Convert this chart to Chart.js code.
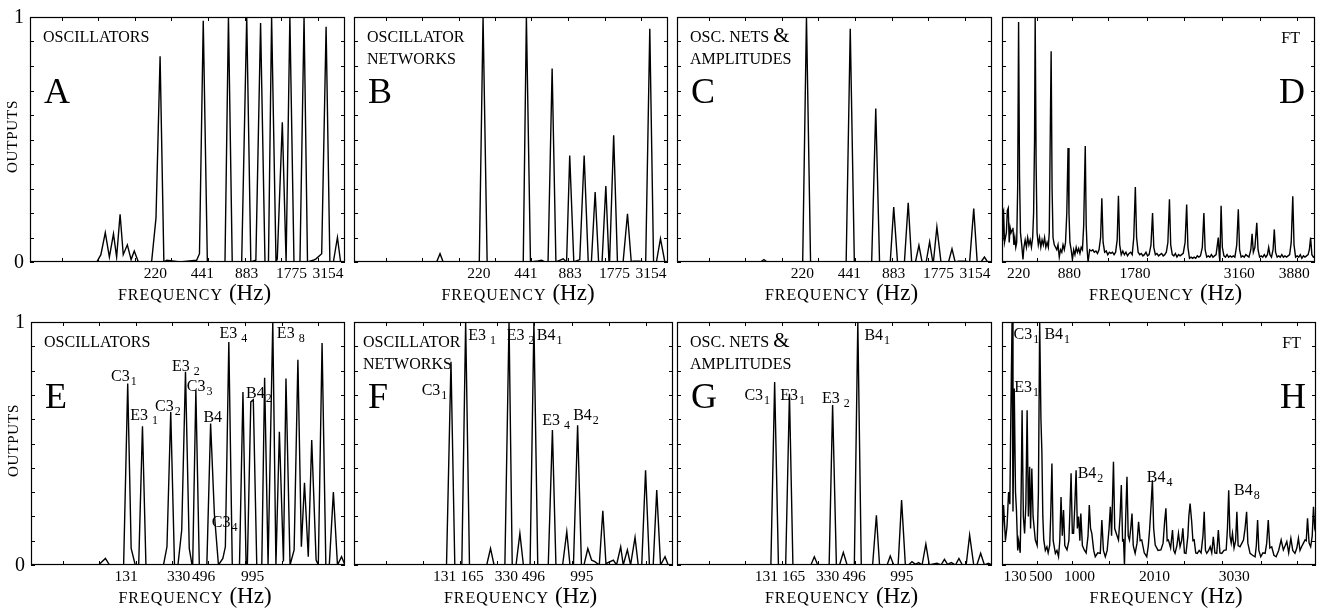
<!DOCTYPE html>
<html>
<head>
<meta charset="utf-8">
<script src="https://cdn.jsdelivr.net/npm/chart.js@4.4.1/dist/chart.umd.min.js"></script>
<style>
    html, body { margin: 0; padding: 0; background: #fff; }
    #wrap { position: relative; width: 1318px; height: 608px; background: #fff; }
    #wrap canvas { position: absolute; left: 0; top: 0; }
</style>
</head>
<body>
<div id="wrap"></div>
<script>
    'use strict';

    // x is the position along each panel's axis (0..100), y is the output (0..1)
    var panelA = [[0,0],[21.2,0],[22.5,0.03],[23.9,0.12],[25.2,0.02],[26.5,0.115],[27.5,0.02],[28.6,0.195],[29.6,0.03],[30.9,0.07],[32.1,0.01],[33.1,0.045],[34.4,0],
        [38.6,0],[40.0,0.18],[41.3,0.84],[42.5,0],[43.4,0.007],[47.6,0],[52.9,0.007],[53.8,0.034],[55.0,0.985],[56.3,0],
        [61.9,0],[63.0,1.0],[64.2,0],[67.2,0],[68.8,1.0],[70.1,0],[71.7,0.007],[73.2,0.975],[74.6,0],[75.7,0],[76.7,1.0],[78.1,0],
        [78.5,0.013],[80.1,0.57],[81.3,0],[81.5,0],[82.5,1.0],[83.8,0],[85.7,0],[87.0,1.0],[88.1,0],
        [89.9,0.007],[90.8,0.013],[92.6,0.034],[94.0,0.96],[95.2,0],[96.3,0],[97.6,0.1],[98.6,0],[100,0]];

    var panelB = [[0,0],[26.3,0],[27.4,0.034],[28.4,0],[39.9,0],[41.1,1.0],[42.4,0],[53.9,0],[54.9,1.0],[56.2,0],
        [58.6,0.004],[59.7,0.007],[60.8,0],[61.8,0],[63.1,0.79],[64.3,0],[65.5,0.007],[66.6,0.013],[67.7,0],[68.7,0.435],[70.0,0],
        [71.9,0.01],[73.3,0.435],[74.6,0],[75.6,0],[76.8,0.286],[77.9,0],[79.0,0],[80.2,0.31],[81.2,0],[81.4,0],[82.7,0.517],[83.9,0],
        [85.7,0],[87.1,0.197],[88.3,0],[88.9,0.003],[91.0,0.003],[92.9,0],[94.2,0.952],[95.4,0],[96.3,0],[97.6,0.095],[99.0,0],[100,0]];

    var panelC = [[0,0],[26.5,0],[27.6,0.01],[28.6,0],[39.9,0],[41.1,1.0],[42.4,0],[53.7,0],[55.0,0.952],[56.3,0],
        [61.8,0],[63.1,0.626],[64.3,0],[67.7,0],[68.8,0.224],[70.0,0],[72.2,0],[73.4,0.242],[74.5,0],[75.7,0],[76.8,0.068],[77.8,0],
        [79.1,0],[80.2,0.082],[81.2,0],[81.4,0],[82.5,0.143],[83.8,0],[86.2,0],[87.3,0.054],[88.3,0],[89.4,0.003],[91.5,0.003],[92.9,0],
        [94.2,0.218],[95.3,0],[96.5,0],[97.6,0.02],[98.6,0],[100,0]];

    var panelD = [[0,0.09],[0.25,0.2],[0.5,0.21],[0.8,0.08],[1.1,0.1],[1.4,0.12],[1.7,0.21],[2.0,0.22],[2.3,0.08],[2.6,0.14],[2.9,0.12],[3.2,0.13],
        [3.5,0.14],[3.8,0.07],[4.1,0.1],[4.4,0.06],[4.7,0.08],[5.0,0.3],[5.3,0.98],[5.6,0.35],[5.9,0.12],[6.3,0.07],[6.7,0.01],[7.0,0.06],
        [7.4,0.09],[7.8,0.06],[8.2,0.1],[8.6,0.07],[9.0,0.09],[9.4,0.06],[9.8,0.1],[10.1,0.2],[10.4,0.5],[10.6,1.0],[10.9,0.4],[11.2,0.12],
        [11.6,0.07],[12.0,0.1],[12.4,0.06],[12.8,0.09],[13.2,0.07],[13.6,0.1],[14.0,0.06],[14.4,0.08],[14.8,0.06],[15.1,0.12],[15.4,0.5],
        [15.7,0.86],[16.0,0.3],[16.3,0.1],[16.7,0.07],[17.1,0.06],[17.5,0.05],[17.9,0.07],[18.3,0.02],[18.7,0.05],[19.1,0.04],[19.5,0.07],
        [19.9,0.05],[20.3,0.08],[20.7,0.2],[21.1,0.465],[21.4,0.2],[21.7,0.08],[22.1,0.05],[22.5,0.01],[22.9,0.05],[23.3,0.03],[23.7,0.06],
        [24.1,0.04],[24.5,0.055],[24.9,0.035],[25.3,0.06],[25.7,0.05],[26.1,0.15],[26.4,0.35],[26.6,0.473],[26.9,0.15],[27.2,0.05],[27.5,0.0],
        [28.0,0.05],[28.5,0.045],[29.0,0.05],[29.5,0.04],[30.0,0.045],[30.5,0.035],[31.0,0.05],[31.5,0.1],[31.9,0.26],[32.3,0.08],[32.8,0.04],
        [33.3,0.045],[33.8,0.03],[34.3,0.04],[34.8,0.035],[35.3,0.04],[35.8,0.03],[36.3,0.04],[36.8,0.09],[37.2,0.27],[37.6,0.07],[38.1,0.03],
        [38.6,0.045],[39.1,0.03],[39.6,0.04],[40.1,0.025],[40.6,0.035],[41.1,0.04],[41.6,0.03],[42.1,0.1],[42.6,0.306],[43.0,0.1],[43.5,0.04],
        [44.0,0.03],[44.5,0.035],[45.0,0.025],[45.5,0.03],[46.0,0.04],[46.5,0.025],[47.0,0.03],[47.6,0.07],[48.1,0.2],[48.5,0.06],[49.0,0.03],
        [49.5,0.035],[50.0,0.025],[50.5,0.03],[51.0,0.035],[51.5,0.025],[52.0,0.03],[52.5,0.04],[53.0,0.08],[53.5,0.256],[53.9,0.07],[54.4,0.03],
        [54.9,0.025],[55.4,0.035],[55.9,0.02],[56.4,0.03],[56.9,0.025],[57.4,0.03],[57.9,0.035],[58.5,0.08],[59.0,0.235],[59.4,0.06],[59.9,0.015],
        [60.4,0.02],[60.9,0.015],[61.4,0.02],[61.9,0.015],[62.4,0.025],[62.9,0.02],[63.4,0.025],[64.0,0.06],[64.5,0.2],[64.9,0.05],[65.4,0.02],
        [65.9,0.025],[66.4,0.02],[66.9,0.03],[67.4,0.02],[67.9,0.025],[68.4,0.03],[68.8,0.07],[69.1,0.1],[69.4,0.03],[69.6,0.0],[70.0,0.23],
        [70.4,0.06],[70.9,0.025],[71.4,0.02],[71.9,0.03],[72.4,0.02],[72.9,0.025],[73.4,0.02],[73.9,0.025],[74.4,0.02],[75.0,0.07],[75.5,0.215],
        [75.9,0.05],[76.4,0.02],[76.9,0.025],[77.4,0.02],[77.9,0.03],[78.4,0.025],[78.9,0.02],[79.5,0.05],[79.9,0.115],[80.3,0.04],[80.8,0.06],
        [81.4,0.16],[81.8,0.05],[82.3,0.02],[82.8,0.025],[83.3,0.02],[83.8,0.03],[84.3,0.02],[84.8,0.03],[85.2,0.06],[85.6,0.03],[86.1,0.02],
        [86.6,0.05],[87.0,0.133],[87.4,0.04],[87.9,0.02],[88.4,0.025],[88.9,0.02],[89.4,0.03],[89.9,0.02],[90.4,0.025],[90.9,0.02],[91.4,0.025],
        [91.9,0.03],[92.4,0.08],[92.9,0.268],[93.3,0.07],[93.8,0.02],[94.3,0.025],[94.8,0.02],[95.3,0.03],[95.8,0.015],[96.3,0.025],[96.8,0.02],
        [97.3,0.025],[97.8,0.03],[98.2,0.05],[98.6,0.1],[99.0,0.03],[99.5,0.02],[100,0.025]];

    var panelE = [[0,0],[21.5,0],[23.7,0.027],[25.0,0],[29.5,0],[30.8,0.747],[31.9,0.068],[33.2,0],[34.3,0],[35.5,0.571],[36.6,0],
        [42.2,0],[43.3,0.075],[44.5,0.63],[45.7,0],[46.8,0],[48.0,0.144],[49.2,0.795],[50.4,0.068],[51.2,0.007],[51.5,0.007],[52.5,0.719],[53.6,0],
        [56.0,0],[57.2,0.582],[58.4,0.21],[59.7,0],[61.1,0.027],[61.9,0.075],[63.0,0.918],[64.1,0],[66.4,0],[67.5,0.712],[68.5,0],[68.9,0],
        [70.0,0.671],[70.8,0.68],[71.9,0],[73.5,0],[74.4,0.771],[75.5,0],[75.7,0],[77.0,1.0],[78.0,0],[79.1,0.548],[80.4,0.014],[81.2,0.767],
        [82.5,0],[83.8,0.062],[85.0,0.845],[86.1,0.075],[87.1,0.338],[88.3,0.034],[89.4,0.514],[90.8,0.02],[91.5,0],[92.7,0.914],[93.9,0],
        [95.0,0],[96.3,0.3],[97.6,0],[98.9,0.034],[100,0]];

    var panelF = [[0,0],[29.0,0],[30.4,0.836],[31.6,0],[33.8,0],[35.0,1.0],[36.2,0],[41.6,0],[42.8,0.068],[43.9,0],[47.3,0],[48.6,1.0],[49.6,0],
        [50.8,0],[52.0,0.13],[53.1,0],[55.2,0],[56.4,1.0],[57.6,0],[60.9,0],[62.2,0.555],[63.3,0],[65.4,0],[66.7,0.137],[67.7,0],[68.8,0],
        [70.1,0.575],[71.3,0],[72.1,0],[73.3,0.068],[74.5,0.02],[75.5,0.014],[76.9,0],[78.0,0.223],[79.0,0],[79.2,0.007],[81.3,0.02],[82.3,0],
        [83.6,0.075],[84.4,0],[85.7,0.062],[86.7,0],[88.1,0.114],[89.1,0],[90.2,0],[91.4,0.39],[92.6,0],[93.8,0],[94.9,0.308],[96.1,0],
        [97.5,0.034],[98.5,0],[100,0]];

    var panelG = [[0,0],[29.8,0],[31.0,0.753],[32.2,0],[34.5,0],[35.7,0.705],[36.8,0],[42.5,0],[43.6,0.034],[44.7,0],[48.3,0],[49.4,0.658],
        [50.6,0],[51.6,0],[52.8,0.052],[54.0,0],[56.3,0],[57.4,1.0],[58.5,0],[62.1,0],[63.3,0.205],[64.3,0],[66.7,0],[67.7,0.037],[68.8,0],
        [70.2,0],[71.3,0.267],[72.5,0],[73.5,0],[74.6,0.014],[75.7,0.003],[76.7,0.01],[77.8,0],[79.0,0.086],[80.1,0],[81.5,0.004],[82.5,0.007],
        [83.8,0],[84.9,0.023],[85.9,0.003],[87.1,0.01],[88.4,0],[89.5,0.027],[90.6,0],[91.8,0],[92.9,0.123],[94.2,0],[95.2,0],[96.4,0.048],
        [97.6,0],[98.9,0.007],[100,0]];

    var panelH = [[0,0.1],[0.5,0.247],[1.1,0.1],[1.6,0.16],[2.1,0.3],[2.5,0.25],[2.8,0.6],[3.2,1.0],[3.5,0.22],[3.9,0.726],[4.3,0.3],[4.6,0.226],
        [5.0,0.06],[5.3,0.1],[5.8,0.05],[6.1,0.3],[6.4,0.637],[6.8,0.2],[7.2,0.13],[7.6,0.25],[8.0,0.637],[8.4,0.2],[8.8,0.404],[9.1,0.15],
        [9.5,0.397],[9.9,0.2],[10.6,0.103],[11.2,0.08],[11.6,0.3],[12.0,1.0],[12.4,0.6],[12.7,0.466],[13.0,0.2],[13.3,0.103],[13.8,0.06],
        [14.3,0.075],[14.7,0.05],[15.2,0.082],[15.5,0.2],[15.9,0.418],[16.3,0.1],[17.0,0.048],[17.5,0.06],[18.0,0.034],[18.4,0.1],[18.8,0.28],
        [19.2,0.12],[19.6,0.226],[20.0,0.08],[20.7,0.062],[21.3,0.1],[21.7,0.25],[22.0,0.377],[22.4,0.13],[22.8,0.13],[23.2,0.25],[23.6,0.39],
        [24.0,0.15],[24.4,0.199],[24.8,0.1],[25.1,0.212],[25.6,0.08],[26.2,0.062],[26.8,0.05],[27.4,0.12],[27.8,0.247],[28.2,0.15],[28.6,0.13],
        [29.2,0.06],[29.7,0.034],[30.5,0.05],[31.3,0.048],[31.8,0.185],[32.3,0.06],[32.9,0.034],[33.5,0.06],[34.1,0.15],[34.5,0.24],[34.9,0.12],
        [35.5,0.425],[35.9,0.15],[36.4,0.13],[37.1,0.103],[37.6,0.2],[38.0,0.329],[38.4,0.1],[38.7,0.103],[39.0,0.0],[39.4,0.2],[39.8,0.363],
        [40.2,0.12],[40.6,0.103],[41.0,0.15],[41.4,0.212],[41.8,0.08],[42.4,0.048],[43.0,0.09],[43.5,0.178],[44.0,0.1],[44.5,0.103],[45.3,0.05],
        [46.1,0.034],[46.6,0.08],[47.0,0.144],[47.5,0.25],[47.9,0.349],[48.3,0.15],[48.8,0.082],[49.7,0.06],[50.6,0.062],[51.3,0.09],[51.8,0.18],
        [52.2,0.233],[52.6,0.1],[53.0,0.103],[53.7,0.07],[54.3,0.144],[54.7,0.06],[55.1,0.048],[55.7,0.08],[56.2,0.13],[56.7,0.075],[57.2,0.1],
        [57.6,0.151],[58.1,0.05],[58.6,0.048],[59.2,0.12],[59.5,0.2],[59.9,0.253],[60.4,0.18],[60.8,0.1],[61.2,0.103],[61.7,0.05],[62.2,0.048],
        [62.8,0.06],[63.4,0.05],[64.0,0.12],[64.4,0.219],[64.8,0.06],[65.2,0.048],[65.8,0.06],[66.3,0.075],[66.8,0.05],[67.3,0.116],[67.8,0.05],
        [68.4,0.048],[68.9,0.144],[69.4,0.05],[70.0,0.048],[70.7,0.06],[71.4,0.062],[71.8,0.15],[72.2,0.308],[72.6,0.12],[73.0,0.09],[73.4,0.13],
        [73.9,0.07],[74.4,0.1],[74.8,0.219],[75.2,0.08],[75.8,0.075],[76.4,0.09],[76.9,0.103],[77.4,0.15],[77.9,0.219],[78.3,0.09],[79.0,0.048],
        [79.8,0.04],[80.6,0.034],[81.0,0.08],[81.4,0.185],[81.8,0.06],[82.4,0.034],[83.1,0.05],[83.8,0.048],[84.3,0.09],[84.8,0.185],[85.3,0.07],
        [85.9,0.075],[86.6,0.04],[87.3,0.034],[88.1,0.06],[88.9,0.103],[89.6,0.062],[90.2,0.08],[90.7,0.096],[91.3,0.05],[92.0,0.11],[92.6,0.06],
        [93.3,0.048],[93.9,0.07],[94.4,0.11],[94.9,0.06],[95.4,0.075],[96.0,0.09],[96.5,0.103],[96.9,0.1],[97.3,0.192],[97.8,0.09],[98.3,0.075],
        [98.8,0.12],[99.2,0.24],[99.6,0.15],[100,0.13]];

    // unlabeled tick marks along top and bottom edges
    var ticksOsc = [10.1, 21.7, 33.3, 44.9, 56.5, 68.2, 79.8, 91.4];
    var ticksFT = [11.2, 22.3, 34.0, 46.3, 58.0, 70.2, 82.4, 94.1];
    var yTicks = [0, 0.1, 0.2, 0.3, 0.4, 0.5, 0.6, 0.7, 0.8, 0.9, 1];

    // frequency labels under the x axis
    var freqTextABC = ['220', '441', '883', '1775', '3154'];
    var freqPosABC = [39.8, 54.7, 68.8, 83.0, 94.6];
    var freqTextD = ['220', '880', '1780', '3160', '3880'];
    var freqPosD = [5.3, 21.5, 42.5, 75.8, 93.4];
    var freqTextE = ['131', '330', '496', '995'];
    var freqPosE = [30.3, 47.0, 55.0, 70.6];
    var freqTextFG = ['131', '165', '330', '496', '995'];
    var freqPosFG = [28.4, 37.0, 47.8, 56.2, 71.4];
    var freqTextH = ['130', '500', '1000', '2010', '3030'];
    var freqPosH = [4.2, 12.4, 24.7, 48.6, 74.0];

    // note labels: name, subscript, x, y
    var notesE = [['C3','1',25.5,0.757],['E3',' 1',31.6,0.596],['C3','2',39.5,0.633],['E3',' 2',44.9,0.799],['C3','3',49.6,0.716],
        ['B4','',54.9,0.587],['C3','4',57.6,0.157],['E3',' 4',60.0,0.936],['B4','2',68.5,0.689],['E3',' 8',78.3,0.936]];
    var notesF = [['C3','1',21.2,0.699],['E3',' 1',35.8,0.925],['E3',' 2',47.9,0.925],['B4','1',57.3,0.925],['E3',' 4',59.0,0.575],['B4','2',68.7,0.596]];
    var notesG = [['C3','1',21.4,0.678],['E3','1',32.8,0.678],['E3',' 2',46.0,0.665],['B4','1',59.5,0.925]];
    var notesH = [['C3','1',3.7,0.932],['B4','1',13.5,0.932],['E3','1',3.9,0.712],['B4','2',24.1,0.356],['B4','4',46.1,0.342],['B4','8',73.9,0.288]];

    var SERIF = '"Liberation Serif", "DejaVu Serif", serif';

    var panels = [
        { rect: [30, 17, 345, 262], data: panelA, ticks: ticksOsc, freqText: freqTextABC, freqPos: freqPosABC,
          desc: ['OSCILLATORS'], letter: 'A', yAxis: true, notes: [] },
        { rect: [354, 17, 668, 262], data: panelB, ticks: ticksOsc, freqText: freqTextABC, freqPos: freqPosABC,
          desc: ['OSCILLATOR', 'NETWORKS'], letter: 'B', notes: [] },
        { rect: [677, 17, 992, 262], data: panelC, ticks: ticksOsc, freqText: freqTextABC, freqPos: freqPosABC,
          desc: ['OSC. NETS &', 'AMPLITUDES'], letter: 'C', notes: [] },
        { rect: [1002, 17, 1315, 262], data: panelD, ticks: ticksFT, freqText: freqTextD, freqPos: freqPosD,
          desc: ['FT'], letter: 'D', right: true, notes: [] },
        { rect: [31, 322, 345, 565], data: panelE, ticks: ticksOsc, freqText: freqTextE, freqPos: freqPosE,
          desc: ['OSCILLATORS'], letter: 'E', yAxis: true, notes: notesE },
        { rect: [354, 322, 673, 565], data: panelF, ticks: ticksOsc, freqText: freqTextFG, freqPos: freqPosFG,
          desc: ['OSCILLATOR', 'NETWORKS'], letter: 'F', notes: notesF, descLeft: 9 },
        { rect: [677, 322, 992, 565], data: panelG, ticks: ticksOsc, freqText: freqTextFG, freqPos: freqPosFG,
          desc: ['OSC. NETS &', 'AMPLITUDES'], letter: 'G', notes: notesG },
        { rect: [1002, 322, 1316, 565], data: panelH, ticks: ticksFT, freqText: freqTextH, freqPos: freqPosH,
          desc: ['FT'], letter: 'H', right: true, notes: notesH }
    ];

    function drawDescLine(ctx, text, x, y, alignRight) {
        // the ampersand is set larger than the small capitals
        var parts = text.split('&');
        ctx.textAlign = 'left';
        ctx.font = '16px ' + SERIF;
        if (alignRight) {
            x = x - ctx.measureText(text).width;
        }
        ctx.fillText(parts[0], x, y);
        if (parts.length > 1) {
            var w = ctx.measureText(parts[0]).width;
            ctx.font = '21px ' + SERIF;
            ctx.fillText('&', x + w, y);
        }
    }

    function framePlugin(cfg) {
        return {
            id: 'frame',
            afterDatasetsDraw: function (chart) {
                var ctx = chart.ctx;
                var a = chart.chartArea;
                var xs = chart.scales.x;
                var ys = chart.scales.y;
                var i, px, py;
                ctx.save();
                ctx.strokeStyle = '#000';
                ctx.fillStyle = '#000';
                ctx.lineWidth = 1.2;
                ctx.strokeRect(a.left + 0.5, a.top + 0.5, a.right - a.left - 1, a.bottom - a.top - 1);

                ctx.lineWidth = 1;
                ctx.beginPath();
                for (i = 0; i < yTicks.length; i++) {
                    py = Math.round(ys.getPixelForValue(yTicks[i])) + 0.5;
                    ctx.moveTo(a.left, py); ctx.lineTo(a.left + 4, py);
                    ctx.moveTo(a.right, py); ctx.lineTo(a.right - 4, py);
                }
                for (i = 0; i < cfg.ticks.length; i++) {
                    px = Math.round(xs.getPixelForValue(cfg.ticks[i])) + 0.5;
                    ctx.moveTo(px, a.top); ctx.lineTo(px, a.top + 4);
                    ctx.moveTo(px, a.bottom); ctx.lineTo(px, a.bottom - 4);
                }
                ctx.stroke();

                // frequency tick labels
                ctx.font = '15.5px ' + SERIF;
                ctx.textAlign = 'center';
                ctx.textBaseline = 'alphabetic';
                for (i = 0; i < cfg.freqText.length; i++) {
                    ctx.fillText(cfg.freqText[i], xs.getPixelForValue(cfg.freqPos[i]), a.bottom + 16);
                }

                // axis title
                var cx = (a.left + a.right) / 2 + 7;
                ctx.font = '16px ' + SERIF;
                ctx.letterSpacing = '1px';
                var w1 = ctx.measureText('FREQUENCY').width;
                ctx.letterSpacing = '0px';
                ctx.font = '23px ' + SERIF;
                var w2 = ctx.measureText('(Hz)').width;
                var x0 = cx - (w1 + 6 + w2) / 2;
                ctx.textAlign = 'left';
                ctx.font = '16px ' + SERIF;
                ctx.letterSpacing = '1px';
                ctx.fillText('FREQUENCY', x0, a.bottom + 38);
                ctx.letterSpacing = '0px';
                ctx.font = '23px ' + SERIF;
                ctx.fillText('(Hz)', x0 + w1 + 6, a.bottom + 38);

                if (cfg.yAxis) {
                    ctx.font = '20px ' + SERIF;
                    ctx.textAlign = 'right';
                    ctx.textBaseline = 'middle';
                    ctx.fillText('0', a.left - 6, ys.getPixelForValue(0) + 1);
                    ctx.fillText('1', a.left - 6, ys.getPixelForValue(1) + 1);
                    ctx.save();
                    ctx.translate(a.left - 17, (a.top + a.bottom) / 2 - 3);
                    ctx.rotate(-Math.PI / 2);
                    ctx.textAlign = 'center';
                    ctx.font = '15px ' + SERIF;
                    ctx.letterSpacing = '0.8px';
                    ctx.fillText('OUTPUTS', 0, 0);
                    ctx.restore();
                }

                // panel description and letter
                ctx.textBaseline = 'alphabetic';
                var dl = cfg.descLeft || 13;
                for (i = 0; i < cfg.desc.length; i++) {
                    if (cfg.right) {
                        drawDescLine(ctx, cfg.desc[i], a.right - 15, a.top + 26, true);
                    } else {
                        drawDescLine(ctx, cfg.desc[i], a.left + dl, a.top + 25 + i * 22, false);
                    }
                }
                ctx.font = '36px ' + SERIF;
                if (cfg.right) {
                    ctx.textAlign = 'right';
                    ctx.fillText(cfg.letter, a.right - 10, a.top + 86);
                } else {
                    ctx.textAlign = 'left';
                    ctx.fillText(cfg.letter, a.left + 14, a.top + 86);
                }

                // note labels on the peaks
                ctx.textAlign = 'left';
                for (i = 0; i < cfg.notes.length; i++) {
                    var n = cfg.notes[i];
                    px = xs.getPixelForValue(n[2]);
                    py = ys.getPixelForValue(n[3]);
                    ctx.font = '16px ' + SERIF;
                    ctx.fillText(n[0], px, py);
                    var nw = ctx.measureText(n[0]).width;
                    ctx.font = '12px ' + SERIF;
                    ctx.fillText(n[1], px + nw + 1, py + 4);
                }
                ctx.restore();
            }
        };
    }

    function makePanel(cfg) {
        var canvas = document.createElement('canvas');
        canvas.width = 1318;
        canvas.height = 608;
        document.getElementById('wrap').appendChild(canvas);
        var r = cfg.rect;
        new Chart(canvas.getContext('2d'), {
            type: 'line',
            data: {
                datasets: [{
                    data: cfg.data.map(function (p) { return { x: p[0], y: p[1] }; }),
                    borderColor: '#000',
                    borderWidth: 1.4,
                    pointRadius: 0,
                    tension: 0,
                    fill: false
                }]
            },
            options: {
                responsive: false,
                animation: false,
                events: [],
                layout: { padding: { left: r[0], top: r[1], right: 1318 - r[2], bottom: 608 - r[3] } },
                scales: {
                    x: { type: 'linear', min: 0, max: 100, display: false },
                    y: { type: 'linear', min: 0, max: 1, display: false }
                },
                plugins: { legend: { display: false }, tooltip: { enabled: false } }
            },
            plugins: [framePlugin(cfg)]
        });
    }

    for (var k = 0; k < panels.length; k++) {
        makePanel(panels[k]);
    }
</script>
</body>
</html>
